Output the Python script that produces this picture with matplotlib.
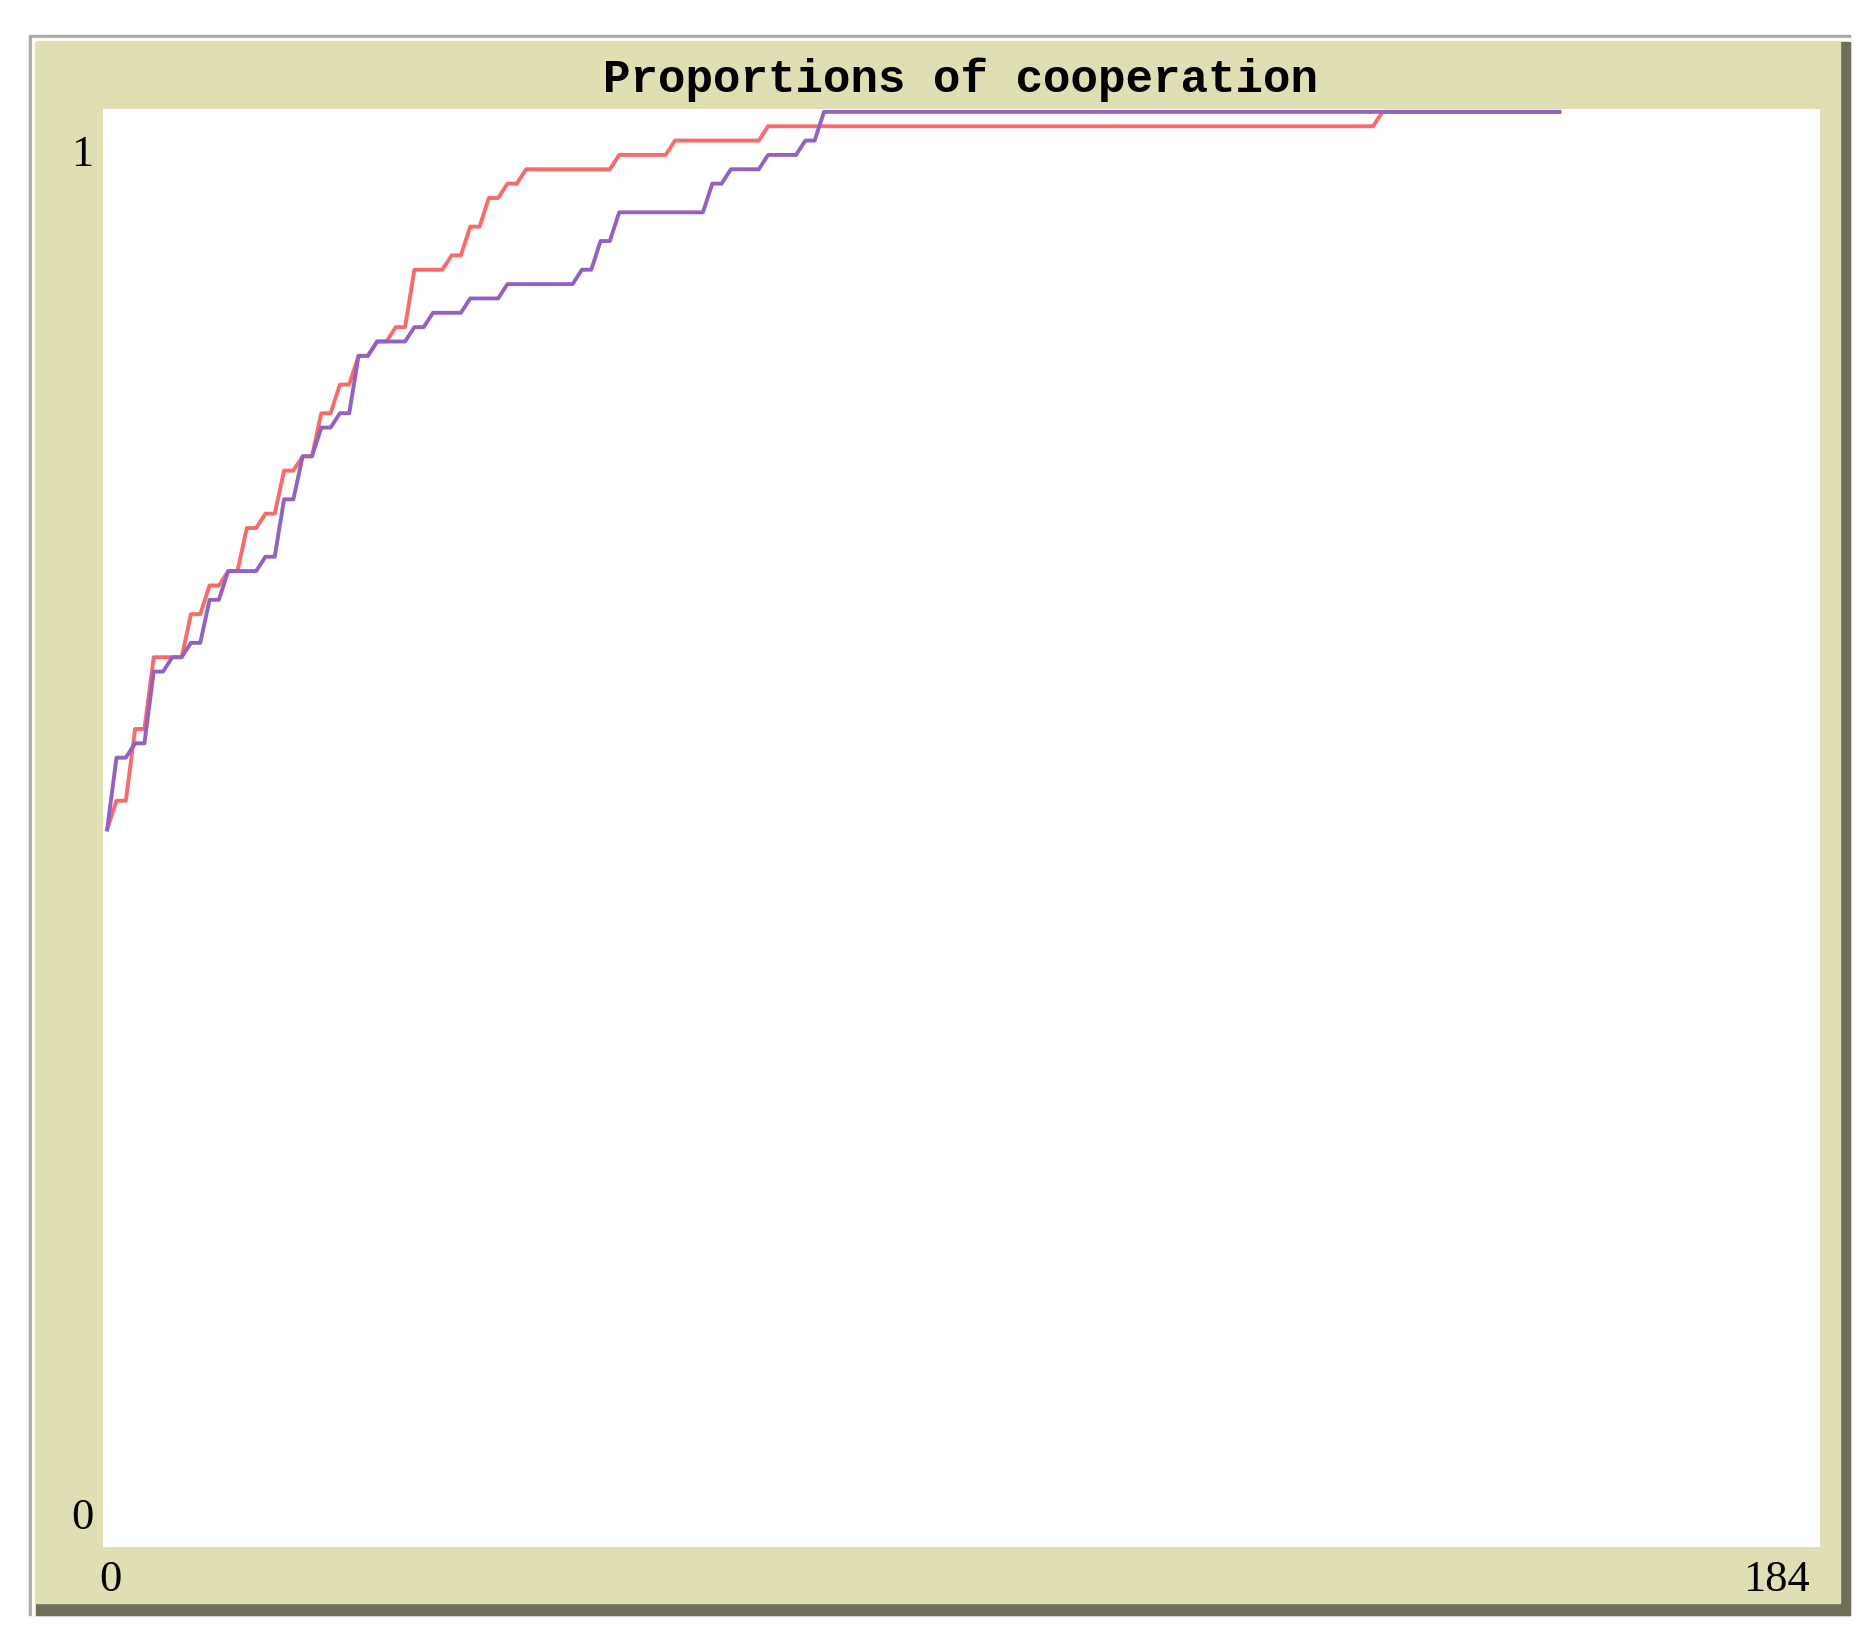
import numpy as np
import matplotlib.pyplot as plt
from matplotlib.patches import Rectangle

# step levels and how many ticks each level lasts (ticks 0..156)
red_levels = [0.50, 0.52, 0.57, 0.62, 0.65, 0.67, 0.68, 0.71, 0.72, 0.75, 0.76, 0.79, 0.81,
              0.83, 0.84, 0.85, 0.89, 0.90, 0.92, 0.94, 0.95, 0.96, 0.97, 0.98, 0.99, 1.00]
red_runs = [1, 2, 2, 4, 2, 2, 2, 2, 2, 2, 2, 2, 2,
            2, 2, 2, 4, 2, 2, 2, 2, 10, 6, 10, 66, 20]

purple_levels = [0.50, 0.55, 0.56, 0.61, 0.62, 0.63, 0.66, 0.68, 0.69, 0.73, 0.76, 0.78, 0.79,
                 0.83, 0.84, 0.85, 0.86, 0.87, 0.88, 0.89, 0.91, 0.93, 0.95, 0.96, 0.97, 0.98, 1.00]
purple_runs = [1, 2, 2, 2, 2, 2, 2, 4, 2, 2, 2, 2, 2,
               2, 4, 2, 4, 4, 8, 2, 2, 10, 2, 4, 4, 2, 80]

red = np.repeat(red_levels, red_runs)
purple = np.repeat(purple_levels, purple_runs)

title = "Proportions of cooperation"
x_max = 184
y_labels = ["1", "0"]

W, H = 1874, 1642
fig = plt.figure(figsize=(W / 100, H / 100), dpi=100)
fig.patch.set_facecolor("white")

# widget frame drawn in pixel coords
bg = fig.add_axes([0, 0, 1, 1])
bg.set_xlim(0, W)
bg.set_ylim(H, 0)
bg.axis("off")
tan = "#e0dfb3"
bg.add_patch(Rectangle((29, 35), 1821, 1580, color="#a8a8a8"))
bg.add_patch(Rectangle((32, 38), 1818, 1577, color="#fbfbf2"))
bg.add_patch(Rectangle((36, 42), 1814, 1573, color="#6f6f59"))
bg.add_patch(Rectangle((36, 42), 1804, 1561, color=tan))

bg.text(961, 80, title, ha="center", va="center", fontsize=33,
        family="Liberation Mono", weight="bold", color="black")
bg.text(82, 155, y_labels[0], ha="center", va="center", fontsize=32, family="Liberation Serif")
bg.text(82, 1518, y_labels[1], ha="center", va="center", fontsize=32, family="Liberation Serif")
bg.text(110, 1580, "0", ha="center", va="center", fontsize=32, family="Liberation Serif")
bg.text(1810, 1580, str(x_max), ha="right", va="center", fontsize=32, family="Liberation Serif")

# plot area
left, top, right, bottom = 103, 109, 1820, 1547
ax = fig.add_axes([left / W, 1 - bottom / H, (right - left) / W, (bottom - top) / H])
ax.set_facecolor("white")
ax.plot(np.arange(len(red)), red, color="#fa6a6a", lw=2.8)
ax.plot(np.arange(len(purple)), purple, color="#9262c2", lw=2.8)
ax.set_xlim(-0.45, x_max)
ax.set_ylim(0, 1.002)
ax.set_xticks([])
ax.set_yticks([])
for s in ax.spines.values():
    s.set_visible(False)

plt.savefig("out.png", dpi=100)
